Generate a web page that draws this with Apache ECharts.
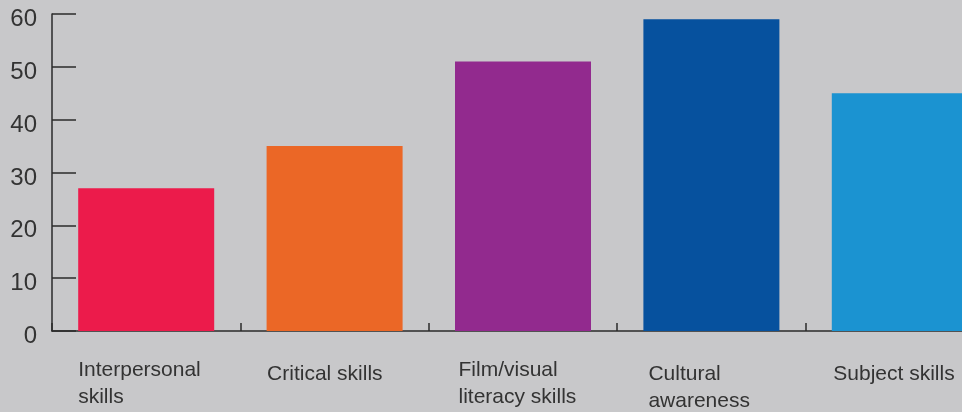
<!DOCTYPE html>
<html>
<head>
<meta charset="utf-8">
<script src="https://cdn.jsdelivr.net/npm/echarts@6/dist/echarts.min.js"></script>
<style>
html,body{margin:0;padding:0;background:#c8c8ca;overflow:hidden;width:962px;height:412px;}
#chart{width:994px;height:412px;}
</style>
</head>
<body>
<div id="chart"></div>
<script>
const categories = ['Interpersonal\nskills', 'Critical skills', 'Film/visual\nliteracy skills', 'Cultural\nawareness', 'Subject skills'];
const values = [27, 35, 51, 59, 45];
const colors = ['#ec1b4b', '#eb6726', '#922a8e', '#06519e', '#1b93d1'];
const yTicks = [0, 10, 20, 30, 40, 50, 60];

const chart = echarts.init(document.getElementById('chart'));
const fontFamily = "'Liberation Sans', Arial, sans-serif";
// small per-label nudges (style only) to mimic the source typesetting
const labelRichKeys = ['l0', 'l1', 'l2', 'l3', 'l4'];
const labelPads = [[0, 0, 0, 0], [8, 0, 0, 1], [0, 0, 0, 7], [8, 0, 0, 10], [8, 0, 0, 3]];
const richX = {};
labelRichKeys.forEach((k, i) => {
  richX[k] = { width: 136, align: 'left', fontSize: 21, lineHeight: 27, color: '#333', fontFamily: fontFamily, padding: labelPads[i] };
});
richX.n = { width: 136, align: 'left', fontSize: 21, lineHeight: 27, color: '#333', fontFamily: fontFamily, padding: [0, 0, 0, 0] };
richX.n3 = { width: 136, align: 'left', fontSize: 21, lineHeight: 27, color: '#333', fontFamily: fontFamily, padding: [8, 0, 0, 10] };
richX.n2 = { width: 136, align: 'left', fontSize: 21, lineHeight: 27, color: '#333', fontFamily: fontFamily, padding: [0, 0, 0, 7] };

chart.setOption({
  backgroundColor: '#c8c8ca',
  animation: false,
  grid: { left: 52, top: 14, bottom: 81, right: 0, containLabel: false },
  xAxis: {
    type: 'category',
    data: categories,
    axisLine: { lineStyle: { color: '#2b2b2b', width: 1.5 } },
    axisTick: { show: true, inside: true, length: 8, lineStyle: { color: '#2b2b2b', width: 1.5 } },
    axisLabel: {
      interval: 0,
      margin: 26,
      color: '#333',
      fontFamily: fontFamily,
      fontSize: 21,
      lineHeight: 27,
      align: 'center',
      formatter: function (v, i) {
        const lines = v.split('\n');
        const k = labelRichKeys[i];
        const rest = i === 3 ? 'n3' : (i === 2 ? 'n2' : 'n');
        return lines.map((t, j) => '{' + (j === 0 ? k : rest) + '|' + t + '}').join('\n');
      },
      rich: richX
    }
  },
  yAxis: {
    type: 'value',
    min: yTicks[0],
    max: yTicks[yTicks.length - 1],
    interval: 10,
    axisLine: { show: true, lineStyle: { color: '#2b2b2b', width: 1.5 } },
    axisTick: { show: true, inside: true, length: 24, lineStyle: { color: '#2b2b2b', width: 1.5 } },
    splitLine: { show: false },
    axisLabel: {
      color: '#333', fontFamily: fontFamily, fontSize: 24, margin: 15,
      formatter: '{v|{value}}',
      rich: { v: { fontSize: 24, color: '#333', fontFamily: fontFamily, padding: [11, 0, 0, 0] } }
    }
  },
  series: [{
    type: 'bar',
    barWidth: 136,
    data: values.map((v, i) => ({ value: v, itemStyle: { color: colors[i] } }))
  }]
});
</script>
</body>
</html>
